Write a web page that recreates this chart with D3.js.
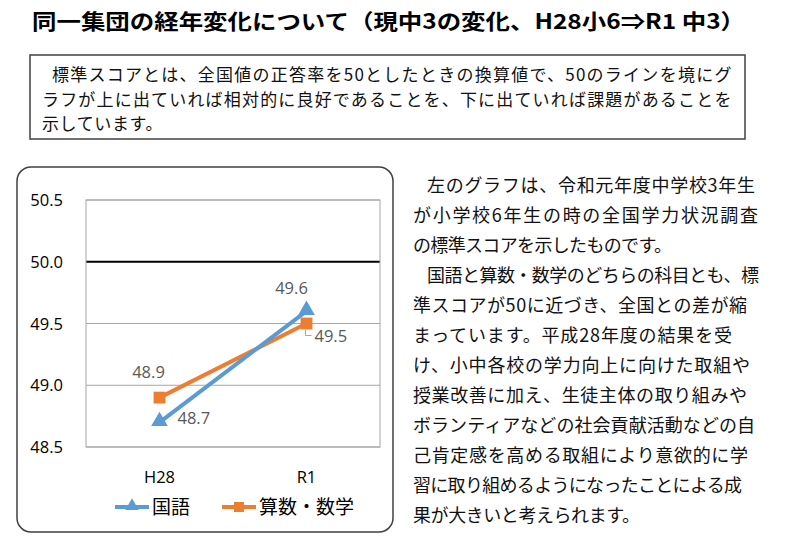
<!DOCTYPE html>
<html>
<head>
<meta charset="utf-8">
<script src="https://cdn.jsdelivr.net/npm/d3@7"></script>
<style>
  body { margin: 0; background: #fff; }
  svg { font-family: "Noto Sans CJK JP", "Noto Sans", sans-serif; }
</style>
</head>
<body>
<svg></svg>
<script>
const size = { w: 800, h: 550 };
const plot = { l: 86, r: 380, t: 200, b: 447 };

const categories = ["H28", "R1"];
const kokugo = [48.7, 49.6];
const sansu = [48.9, 49.5];
const yTicks = [48.5, 49.0, 49.5, 50.0, 50.5];
const seriesNames = ["国語", "算数・数学"];

const title = "同一集団の経年変化について（現中3の変化、H28小6⇒R1 中3）";
const noteLines = [
	"標準スコアとは、全国値の正答率を50としたときの換算値で、50のラインを境にグ",
	"ラフが上に出ていれば相対的に良好であることを、下に出ていれば課題があることを",
	"示しています。"
];
const bodyLines = [
	"左のグラフは、令和元年度中学校3年生",
	"が小学校6年生の時の全国学力状況調査",
	"の標準スコアを示したものです。",
	"国語と算数・数学のどちらの科目とも、標",
	"準スコアが50に近づき、全国との差が縮",
	"まっています。平成28年度の結果を受",
	"け、小中各校の学力向上に向けた取組や",
	"授業改善に加え、生徒主体の取り組みや",
	"ボランティアなどの社会貢献活動などの自",
	"己肯定感を高める取組により意欲的に学",
	"習に取り組めるようになったことによる成",
	"果が大きいと考えられます。"
];

const blue = "#5b9bd5";
const orange = "#ed7d31";

const svg = d3.select("svg").attr("width", size.w).attr("height", size.h);

// title
svg.append("text")
	.attr("x", 32)
	.attr("y", 29)
	.attr("font-size", 21)
	.attr("font-weight", "bold")
	.attr("textLength", 713)
	.attr("lengthAdjust", "spacingAndGlyphs")
	.text(title);

// note box
svg.append("rect")
	.attr("x", 30).attr("y", 55)
	.attr("width", 715).attr("height", 84)
	.attr("fill", "none")
	.attr("stroke", "#404040")
	.attr("stroke-width", 1.5);

// [start x, width] per line, width null = natural
const noteSpan = [[52, 680], [42, 690], [42, null]];
noteLines.forEach((t, i) => {
	const el = svg.append("text")
		.attr("x", noteSpan[i][0])
		.attr("y", 81 + i * 24.5)
		.attr("font-size", 17)
		.attr("letter-spacing", 0.6)
		.attr("fill", "#111")
		.text(t);
	if (noteSpan[i][1]) el.attr("textLength", noteSpan[i][1]).attr("lengthAdjust", "spacing");
});

// chart frame
svg.append("rect")
	.attr("x", 17).attr("y", 167)
	.attr("width", 376).attr("height", 365)
	.attr("rx", 14)
	.attr("fill", "#fff")
	.attr("stroke", "#404040")
	.attr("stroke-width", 1.5);

const x = d3.scaleBand().domain(categories).range([plot.l, plot.r]);
const y = d3.scaleLinear().domain([48.5, 50.5]).range([plot.b, plot.t]);

const g = svg.append("g");

// gridlines
g.selectAll("line.grid")
	.data(yTicks)
	.join("line")
	.attr("x1", plot.l).attr("x2", plot.r)
	.attr("y1", (d) => y(d)).attr("y2", (d) => y(d))
	.attr("stroke", (d) => (d === 50 ? "#000" : "#a6a6a6"))
	.attr("stroke-width", (d) => (d === 50 ? 2.2 : 1));

g.append("rect")
	.attr("x", plot.l).attr("y", plot.t)
	.attr("width", plot.r - plot.l).attr("height", plot.b - plot.t)
	.attr("fill", "none")
	.attr("stroke", "#a6a6a6");

// y labels
g.selectAll("text.ylab")
	.data(yTicks)
	.join("text")
	.attr("x", 63)
	.attr("y", (d) => y(d) + 6)
	.attr("text-anchor", "end")
	.attr("font-size", 16.5)
	.attr("font-family", "Open Sans, sans-serif")
	.attr("fill", "#000")
	.text((d) => d3.format(".1f")(d));

// x labels
g.selectAll("text.xlab")
	.data(categories)
	.join("text")
	.attr("x", (d) => x(d) + x.bandwidth() / 2)
	.attr("y", 483)
	.attr("text-anchor", "middle")
	.attr("font-size", 16.5)
	.attr("font-family", "Open Sans, sans-serif")
	.text((d) => d);

const cx = (i) => x(categories[i]) + x.bandwidth() / 2;
const line = d3.line().x((d, i) => cx(i)).y((d) => y(d));

// orange series
g.append("path")
	.attr("d", line(sansu))
	.attr("fill", "none")
	.attr("stroke", orange)
	.attr("stroke-width", 4);
// blue series
g.append("path")
	.attr("d", line(kokugo))
	.attr("fill", "none")
	.attr("stroke", blue)
	.attr("stroke-width", 4);

const tri = d3.symbol().type(d3.symbolTriangle).size(120);
const sq = d3.symbol().type(d3.symbolSquare).size(140);

g.selectAll("path.sq")
	.data(sansu)
	.join("path")
	.attr("transform", (d, i) => `translate(${cx(i)},${y(d)})`)
	.attr("d", sq)
	.attr("fill", orange);

g.selectAll("path.tri")
	.data(kokugo)
	.join("path")
	.attr("transform", (d, i) => `translate(${cx(i)},${y(d) - 1})`)
	.attr("d", tri)
	.attr("fill", blue);

// data labels
const labelStyle = (sel) =>
	sel.attr("font-size", 16.5)
		.attr("font-family", "Open Sans, sans-serif")
		.attr("fill", "#595959");

g.append("text").call(labelStyle)
	.attr("x", cx(0) - 11).attr("y", y(sansu[0]) - 20)
	.attr("text-anchor", "middle")
	.text(sansu[0].toFixed(1));
g.append("text").call(labelStyle)
	.attr("x", cx(0) + 18).attr("y", y(kokugo[0]) + 2)
	.text(kokugo[0].toFixed(1));
g.append("text").call(labelStyle)
	.attr("x", cx(1) - 15).attr("y", y(kokugo[1]) - 17)
	.attr("text-anchor", "middle")
	.text(kokugo[1].toFixed(1));
// leader for 49.5
g.append("path")
	.attr("d", `M${cx(1) - 1},${y(sansu[1]) + 6}V${y(sansu[1]) + 12}H${cx(1) + 5}`)
	.attr("fill", "none")
	.attr("stroke", "#a6a6a6");
g.append("text").call(labelStyle)
	.attr("x", cx(1) + 8).attr("y", y(sansu[1]) + 18)
	.text(sansu[1].toFixed(1));

// legend
const legend = svg.append("g").attr("transform", "translate(0,507)");
const legendItems = [
	{ name: seriesNames[0], color: blue, shape: "tri", x: 115 },
	{ name: seriesNames[1], color: orange, shape: "sq", x: 222 }
];
legendItems.forEach((e) => {
	legend.append("line")
		.attr("x1", e.x).attr("x2", e.x + 34)
		.attr("stroke", e.color).attr("stroke-width", 4);
	legend.append("path")
		.attr("transform", `translate(${e.x + 17},${e.shape === "tri" ? -1 : 0})`)
		.attr("d", e.shape === "tri"
			? d3.symbol().type(d3.symbolTriangle).size(80)()
			: d3.symbol().type(d3.symbolSquare).size(100)())
		.attr("fill", e.color);
	legend.append("text")
		.attr("x", e.x + 37).attr("y", 7)
		.attr("font-size", 19)
		.text(e.name);
});

// right-hand text: [start x, end x] per line
const bodySpan = [
	[427, 755], [413, 758], [413, 672], [427, 759], [413, 747], [413, 732],
	[413, 750], [413, 747], [413, 755], [413, 748], [413, 742], [413, 640]
];
bodyLines.forEach((t, i) => {
	svg.append("text")
		.attr("x", bodySpan[i][0])
		.attr("y", 192 + i * 30)
		.attr("font-size", 18)
		.attr("fill", "#111")
		.attr("textLength", bodySpan[i][1] - bodySpan[i][0])
		.attr("lengthAdjust", "spacing")
		.text(t);
});
</script>
</body>
</html>
